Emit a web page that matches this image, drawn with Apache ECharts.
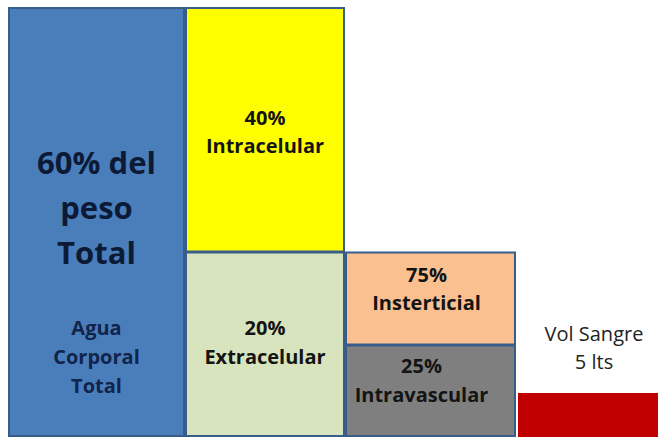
<!DOCTYPE html>
<html><head><meta charset="utf-8">
<script src="https://cdn.jsdelivr.net/npm/echarts@6/dist/echarts.min.js"></script>
<style>html,body{margin:0;padding:0;background:#fff}#c{width:658px;height:438px}</style>
</head><body><div id="c"></div>
<script>
// Data
const columns = ['Agua Corporal Total', 'Intracelular / Extracelular', 'Insterticial / Intravascular', 'Vol Sangre'];
const segmentNames = ['Agua Corporal Total', 'Extracelular', 'Intracelular', 'Intravascular', 'Insterticial', 'Vol Sangre'];
const segmentColumn = [0, 1, 1, 2, 2, 3];
const segmentValues = [100, 43, 57, 21.3, 21.7, 10];
const segmentLabels = ['60% del\npeso\nTotal', '20%\nExtracelular', '40%\nIntracelular', '25%\nIntravascular', '75%\nInsterticial', ''];
const segmentSubLabels = ['Agua\nCorporal\nTotal', '', '', '', '', ''];
const sideLabel = 'Vol Sangre\n5 lts';

// Layout / style (not data)
const colSpan = [[0, 177], [177, 337], [337, 508], [510, 650]];
const colors = ['#4a7ebb', '#d7e4bd', '#ffff00', '#7f7f7f', '#fac090', '#c00000'];
const borders = ['#385d8a', '#385d8a', '#385d8a', '#385d8a', '#385d8a', '#c00000'];
const labelShift = [-12, -2, 2, -10, -10, 0];
const labelShiftX = [0, 0, 0, -9, -4, 0];
const labelFont = [31, 20, 20, 20, 20, 20];
const labelLineH = [45, 29, 28, 29, 28, 28];
const labelColor = ['#0c1a36', '#141414', '#141414', '#141414', '#141414', '#141414'];

// build stacked bottoms
const bottoms = [];
const acc = {};
segmentValues.forEach((v, i) => {
  const c = segmentColumn[i];
  bottoms.push(acc[c] || 0);
  acc[c] = (acc[c] || 0) + v;
});
const data = segmentValues.map((v, i) => [segmentColumn[i], bottoms[i], bottoms[i] + v, i]);

const chart = echarts.init(document.getElementById('c'), null, {renderer: 'svg'});
const fontFam = '"Open Sans", sans-serif';
chart.setOption({
  animation: false,
  grid: {left: 8, right: 0, top: 7, bottom: 2},
  xAxis: {type: 'value', min: 0, max: 650, show: false},
  yAxis: {type: 'value', min: 0, max: 100, show: false},
  series: [{
    type: 'custom',
    data: data,
    renderItem: function (params, api) {
      const col = api.value(0), y0 = api.value(1), y1 = api.value(2), idx = api.value(3);
      const span = colSpan[col];
      const p0 = api.coord([span[0], y0]);
      const p1 = api.coord([span[1], y1]);
      const x = p0[0], w = p1[0] - p0[0], top = p1[1], h = p0[1] - p1[1];
      const children = [{
        type: 'rect',
        shape: {x: x + 1, y: top + 1, width: w - 2, height: h - 1},
        style: {fill: colors[idx], stroke: borders[idx], lineWidth: 2}
      }];
      const cx = x + w / 2;
      if (segmentLabels[idx]) {
        let cy = top + h / 2 + labelShift[idx];
        if (segmentSubLabels[idx]) cy = top + 200;
        children.push({
          type: 'text',
          style: {
            text: segmentLabels[idx], x: cx + labelShiftX[idx], y: cy, align: 'center', verticalAlign: 'middle',
            font: 'bold ' + labelFont[idx] + 'px ' + fontFam, fill: labelColor[idx], lineHeight: labelLineH[idx]
          }
        });
      }
      if (segmentSubLabels[idx]) {
        children.push({
          type: 'text',
          style: {
            text: segmentSubLabels[idx], x: cx, y: top + h * 0.815, align: 'center', verticalAlign: 'middle',
            font: 'bold 20px ' + fontFam, fill: '#12244a', lineHeight: 29
          }
        });
      }
      if (idx === segmentNames.length - 1) {
        children.push({
          type: 'text',
          style: {
            text: sideLabel, x: cx + 6, y: top - 46, align: 'center', verticalAlign: 'middle',
            font: '20px ' + fontFam, fill: '#222', lineHeight: 28
          }
        });
      }
      return {type: 'group', children: children};
    }
  }]
});
</script></body></html>
